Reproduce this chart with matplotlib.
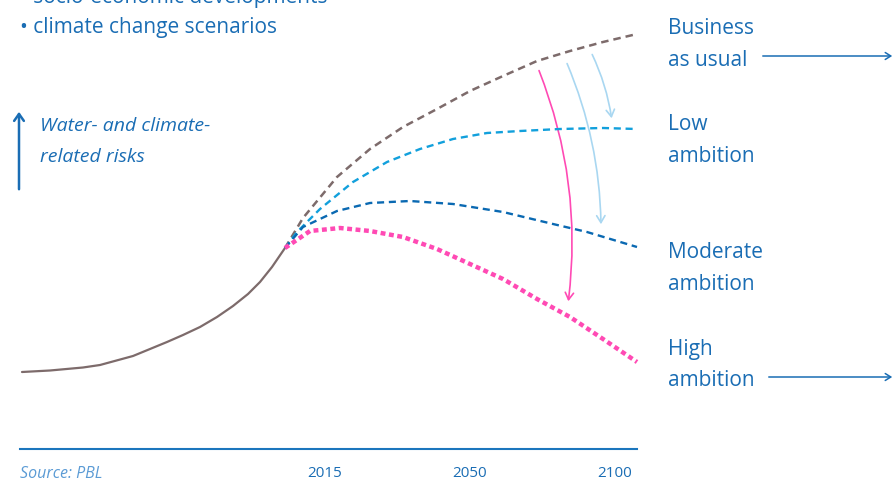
import matplotlib.pyplot as plt
from matplotlib.patches import FancyArrowPatch

plt.rcParams['font.family'] = ['Open Sans', 'DejaVu Sans']

# canvas units: x runs left->right across the figure, risk is height above the bottom edge
H = 485

# historic development (solid) up to the branching point
hist_t = [22, 50, 83, 100, 133, 167, 183, 200, 217, 233, 248, 260, 272, 285]
hist_risk = [112, 113.5, 116.5, 119, 128, 142, 149, 157, 167, 178, 190, 202, 217, 236]

# scenario curves from the branching point to 2100
bau_t = [285, 303, 337, 370, 403, 437, 470, 503, 537, 570, 603, 637]
bau_risk = [236, 266, 307, 335, 357, 375, 393, 408, 423, 433, 442, 450]
low_t = [285, 297, 320, 353, 387, 420, 453, 487, 520, 560, 603, 637]
low_risk = [236, 252, 275, 302, 322, 335, 345, 351, 353, 355, 356, 355]
mod_t = [285, 303, 337, 370, 410, 453, 503, 553, 587, 637]
mod_risk = [236, 257, 273, 281, 283, 280, 272, 260, 252, 237]
high_t = [285, 310, 340, 370, 403, 437, 470, 503, 537, 570, 603, 637]
high_risk = [236, 253, 256, 253, 247, 235, 220, 205, 185, 167, 145, 122]

scen_labels = [('Business', 'as usual'), ('Low', 'ambition'),
               ('Moderate', 'ambition'), ('High', 'ambition')]
label_risk = [457, 360, 233, 136]

tick_t = [325, 470, 615]
tick_labels = ['2015', '2050', '2100']

brown = '#7d6b6b'
cyan = '#12a0dc'
navy = '#0a69b2'
pink = '#ff4ab4'
txt = '#1a6db4'
pale = '#a9d7f1'

fig = plt.figure(figsize=(8.95, 4.85), dpi=100)
ax = fig.add_axes([0, 0, 1, 1])
ax.set_xlim(0, 895)
ax.set_ylim(0, H)
ax.axis('off')

ax.plot(hist_t, hist_risk, color=brown, lw=1.6, solid_capstyle='round')
ax.plot(bau_t, bau_risk, color=brown, lw=1.8, dashes=(3, 2))
ax.plot(low_t, low_risk, color=cyan, lw=1.7, dashes=(3, 2))
ax.plot(mod_t, mod_risk, color=navy, lw=1.7, dashes=(3, 2))
ax.plot(high_t, high_risk, color=pink, lw=3.2, dashes=(1.1, 0.8))

# curved arrows between scenarios
arrows = [((538, H - 69), (568, H - 305), pink, -0.13),
          ((566, H - 62), (601, H - 228), pale, -0.1),
          ((591, H - 53), (612, H - 122), pale, -0.08)]
for start, end, c, rad in arrows:
    ax.add_patch(FancyArrowPatch(start, end, connectionstyle=f'arc3,rad={rad}',
                                 arrowstyle='->,head_length=5,head_width=3',
                                 color=c, lw=1.2))

# baseline and ticks
ax.plot([20, 637], [H - 450, H - 450], color='#1b76bd', lw=1.5)
for t, lab in zip(tick_t, tick_labels):
    ax.text(t, H - 474, lab, color=txt, fontsize=11, ha='center', va='center')
ax.text(20, H - 474, 'Source: PBL', color='#5b9bd5', fontsize=11.5, style='italic',
        ha='left', va='center')

# scenario labels
for (l1, l2), r in zip(scen_labels, label_risk):
    ax.text(668, r, l1, color=txt, fontsize=15, ha='left', va='center')
    ax.text(668, r - 32, l2, color=txt, fontsize=15, ha='left', va='center')
ax.annotate('', xy=(895, H - 57), xytext=(760, H - 57),
            arrowprops=dict(arrowstyle='->,head_length=0.4,head_width=0.25', color=txt, lw=1.1))
ax.annotate('', xy=(895, H - 378), xytext=(766, H - 378),
            arrowprops=dict(arrowstyle='->,head_length=0.4,head_width=0.25', color=txt, lw=1.1))

# y-axis hint
ax.annotate('', xy=(19, H - 110), xytext=(19, H - 193),
            arrowprops=dict(arrowstyle='->,head_length=0.5,head_width=0.35', color=txt, lw=1.8))
ax.text(40, H - 126, 'Water- and climate-', color=txt, fontsize=14, style='italic',
        ha='left', va='center')
ax.text(40, H - 157, 'related risks', color=txt, fontsize=14, style='italic',
        ha='left', va='center')

# drivers list (top line cut off by the figure edge)
ax.text(20, H + 3, '\u2022 socio-economic developments', color=txt, fontsize=15,
        ha='left', va='center', clip_on=False)
ax.text(20, H - 27, '\u2022 climate change scenarios', color=txt, fontsize=15,
        ha='left', va='center')

fig.savefig('out.png', dpi=100)
